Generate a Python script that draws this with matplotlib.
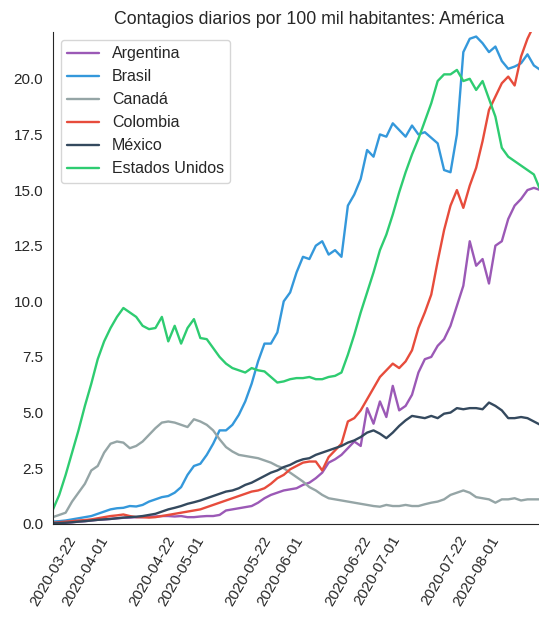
import matplotlib
matplotlib.use("Agg")
from matplotlib import pyplot as plt
import matplotlib.dates as mdates
import seaborn as sns
import pandas as pd

# valores cada 2 dias desde 2020-03-14
fechas = pd.date_range("2020-03-14", "2020-08-13", freq="2D")

argentina = [0.02, 0.03, 0.05, 0.07, 0.1, 0.12, 0.15, 0.18, 0.2, 0.22,
             0.25, 0.27, 0.28, 0.3, 0.3, 0.32, 0.33, 0.35, 0.35, 0.33,
             0.35, 0.3, 0.3, 0.33, 0.35, 0.35, 0.4, 0.6, 0.65, 0.7,
             0.75, 0.8, 0.95, 1.15, 1.3, 1.4, 1.5, 1.55, 1.6, 1.75,
             1.85, 2.05, 2.3, 2.75, 2.9, 3.1, 3.4, 3.7, 3.5, 5.2,
             4.5, 5.5, 4.8, 6.2, 5.1, 5.3, 5.8, 6.8, 7.4, 7.5,
             8.0, 8.3, 8.9, 9.8, 10.7, 12.7, 11.6, 11.9, 10.8, 12.5,
             12.7, 13.7, 14.3, 14.6, 15.0, 15.1, 15.0]
brasil = [0.1, 0.12, 0.15, 0.2, 0.25, 0.3, 0.35, 0.45, 0.55, 0.65,
          0.7, 0.72, 0.8, 0.78, 0.85, 1.0, 1.1, 1.2, 1.25, 1.4,
          1.65, 2.2, 2.6, 2.7, 3.1, 3.6, 4.2, 4.2, 4.45, 4.9,
          5.5, 6.3, 7.3, 8.1, 8.1, 8.6, 10.0, 10.4, 11.3, 12.0,
          11.9, 12.5, 12.7, 12.1, 12.3, 12.0, 14.3, 14.8, 15.5, 16.8,
          16.5, 17.5, 17.4, 18.0, 17.7, 17.4, 17.9, 17.5, 17.6, 17.35,
          17.1, 15.9, 15.8, 17.5, 21.2, 21.8, 21.9, 21.6, 21.2, 21.45,
          20.8, 20.45, 20.55, 20.7, 21.1, 20.6, 20.4]
canada = [0.3, 0.4, 0.5, 1.0, 1.4, 1.8, 2.4, 2.6, 3.2, 3.6,
          3.7, 3.65, 3.4, 3.5, 3.7, 4.0, 4.3, 4.55, 4.6, 4.55,
          4.45, 4.35, 4.7, 4.6, 4.45, 4.2, 3.8, 3.45, 3.25, 3.1,
          3.05, 3.0, 2.95, 2.85, 2.75, 2.6, 2.5, 2.3, 2.1, 1.9,
          1.65, 1.5, 1.3, 1.15, 1.1, 1.05, 1.0, 0.95, 0.9, 0.85,
          0.8, 0.77, 0.85, 0.8, 0.8, 0.85, 0.8, 0.8, 0.88, 0.95,
          1.0, 1.1, 1.3, 1.4, 1.5, 1.4, 1.2, 1.15, 1.1, 0.95,
          1.1, 1.1, 1.15, 1.05, 1.1, 1.1, 1.1]
colombia = [0.05, 0.07, 0.1, 0.12, 0.15, 0.17, 0.2, 0.25, 0.3, 0.35,
            0.38, 0.42, 0.35, 0.3, 0.3, 0.28, 0.3, 0.35, 0.4, 0.45,
            0.5, 0.55, 0.6, 0.65, 0.75, 0.85, 0.95, 1.05, 1.15, 1.25,
            1.35, 1.45, 1.5, 1.6, 1.8, 2.05, 2.2, 2.45, 2.6, 2.75,
            2.8, 2.8, 2.4, 3.0, 3.3, 3.6, 4.6, 4.75, 5.1, 5.6,
            6.1, 6.6, 6.9, 7.2, 7.0, 7.3, 7.8, 8.8, 9.5, 10.3,
            11.8, 13.2, 14.3, 15.0, 14.2, 15.2, 16.0, 17.2, 18.6, 19.2,
            19.8, 20.1, 19.7, 21.0, 21.8, 22.4, 23.0]
mexico = [0.03, 0.04, 0.05, 0.07, 0.1, 0.12, 0.15, 0.18, 0.2, 0.22,
          0.25, 0.28, 0.3, 0.32, 0.35, 0.4, 0.45, 0.55, 0.65, 0.72,
          0.8, 0.9, 0.97, 1.05, 1.15, 1.25, 1.35, 1.45, 1.5, 1.6,
          1.75, 1.85, 2.0, 2.15, 2.3, 2.4, 2.55, 2.65, 2.8, 2.9,
          2.95, 3.1, 3.2, 3.3, 3.4, 3.5, 3.65, 3.75, 3.9, 4.1,
          4.2, 4.05, 3.85, 4.1, 4.4, 4.65, 4.85, 4.8, 4.75, 4.85,
          4.75, 4.95, 5.0, 5.2, 5.15, 5.2, 5.2, 5.15, 5.45, 5.3,
          5.1, 4.75, 4.75, 4.8, 4.75, 4.6, 4.45]
estados_unidos = [0.63, 1.3, 2.2, 3.2, 4.2, 5.3, 6.3, 7.4, 8.2, 8.8,
                  9.3, 9.7, 9.5, 9.3, 8.9, 8.75, 8.8, 9.3, 8.2, 8.9,
                  8.1, 8.8, 9.2, 8.35, 8.3, 7.9, 7.5, 7.2, 7.0, 6.9,
                  6.8, 7.0, 6.9, 6.85, 6.6, 6.35, 6.4, 6.5, 6.55, 6.55,
                  6.6, 6.5, 6.5, 6.6, 6.65, 6.8, 7.6, 8.5, 9.5, 10.4,
                  11.3, 12.3, 13.0, 13.9, 14.9, 15.8, 16.6, 17.3, 18.1, 18.9,
                  19.9, 20.2, 20.2, 20.4, 19.9, 20.0, 19.5, 19.9, 19.1, 18.3,
                  16.9, 16.5, 16.3, 16.1, 15.9, 15.7, 15.0]

paises = ["Argentina", "Brasil", "Canadá", "Colombia", "México", "Estados Unidos"]
series = [argentina, brasil, canada, colombia, mexico, estados_unidos]
colores = ["#9b59b6", "#3498db", "#95a5a6", "#e74c3c", "#34495e", "#2ecc71"]

ticks = ["2020-03-22", "2020-04-01", "2020-04-22", "2020-05-01", "2020-05-22",
         "2020-06-01", "2020-06-22", "2020-07-01", "2020-07-22", "2020-08-01"]

sns.set_style("white")
plt.rcParams["font.family"] = ["Liberation Sans", "DejaVu Sans"]

fig = plt.figure(figsize=(5.39, 6.17), dpi=100)
# el grafico original esta recortado a la derecha
ax = fig.add_axes([0.098, 0.151, 0.952, 0.797])

for pais, valores, color in zip(paises, series, colores):
    ax.plot(fechas, valores, label=pais, color=color, linewidth=1.7)

ax.set_title("Contagios diarios por 100 mil habitantes: América", fontsize=12.8)
ax.set_xlim(pd.Timestamp("2020-03-14"), pd.Timestamp("2020-08-21"))
ax.set_ylim(0, 22.1)
ax.set_xticks(pd.to_datetime(ticks))
ax.xaxis.set_major_formatter(mdates.DateFormatter("%Y-%m-%d"))
plt.setp(ax.get_xticklabels(), rotation=60, ha="right")
ax.tick_params(labelsize=11)
ax.legend(loc="upper left", fontsize=11.5)
sns.despine(ax=ax)

plt.savefig("out.png")
